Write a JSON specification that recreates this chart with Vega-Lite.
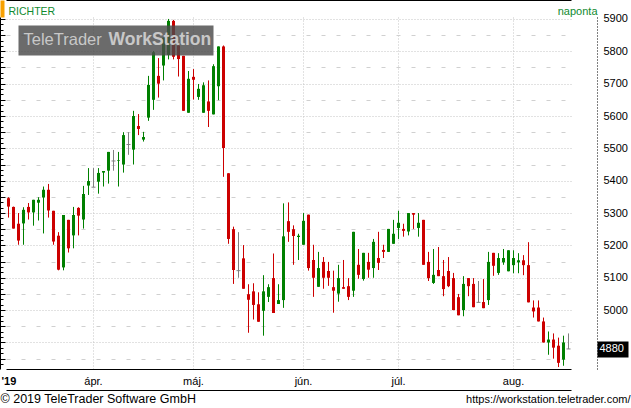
{
  "$schema": "https://vega.github.io/schema/vega-lite/v6.json",
  "width": 597,
  "height": 352,
  "autosize": {"type": "none"},
  "padding": {"left": 0, "top": 17, "right": 34, "bottom": 39},
  "background": "white",
  "config": {
    "view": {"stroke": null},
    "axis": {"labelFont": "Liberation Sans", "titleFont": "Liberation Sans"}
  },
  "data": {
    "values": [
      {"d": "2019-03-06", "o": 5346, "h": 5349, "l": 5286, "c": 5320},
      {"d": "2019-03-07", "o": 5319, "h": 5320, "l": 5252, "c": 5252},
      {"d": "2019-03-08", "o": 5267, "h": 5300, "l": 5202, "c": 5215},
      {"d": "2019-03-11", "o": 5268, "h": 5318, "l": 5202, "c": 5310},
      {"d": "2019-03-12", "o": 5319, "h": 5331, "l": 5280, "c": 5302},
      {"d": "2019-03-13", "o": 5302, "h": 5341, "l": 5261, "c": 5341},
      {"d": "2019-03-14", "o": 5332, "h": 5349, "l": 5277, "c": 5341},
      {"d": "2019-03-18", "o": 5348, "h": 5382, "l": 5237, "c": 5372},
      {"d": "2019-03-19", "o": 5372, "h": 5390, "l": 5286, "c": 5308},
      {"d": "2019-03-20", "o": 5307, "h": 5307, "l": 5202, "c": 5212},
      {"d": "2019-03-21", "o": 5230, "h": 5241, "l": 5123, "c": 5125},
      {"d": "2019-03-22", "o": 5132, "h": 5294, "l": 5123, "c": 5294},
      {"d": "2019-03-25", "o": 5279, "h": 5279, "l": 5178, "c": 5191},
      {"d": "2019-03-26", "o": 5231, "h": 5319, "l": 5191, "c": 5294},
      {"d": "2019-03-27", "o": 5316, "h": 5318, "l": 5231, "c": 5292},
      {"d": "2019-03-28", "o": 5280, "h": 5384, "l": 5252, "c": 5359},
      {"d": "2019-03-29", "o": 5385, "h": 5439, "l": 5356, "c": 5399},
      {"d": "2019-04-01", "o": 5380, "h": 5439, "l": 5380, "c": 5380},
      {"d": "2019-04-02", "o": 5397, "h": 5439, "l": 5360, "c": 5424},
      {"d": "2019-04-03", "o": 5425, "h": 5430, "l": 5382, "c": 5430},
      {"d": "2019-04-04", "o": 5431, "h": 5489, "l": 5391, "c": 5489},
      {"d": "2019-04-05", "o": 5461, "h": 5495, "l": 5431, "c": 5461},
      {"d": "2019-04-08", "o": 5462, "h": 5489, "l": 5382, "c": 5464},
      {"d": "2019-04-09", "o": 5450, "h": 5550, "l": 5425, "c": 5541},
      {"d": "2019-04-10", "o": 5512, "h": 5550, "l": 5480, "c": 5512},
      {"d": "2019-04-11", "o": 5496, "h": 5616, "l": 5450, "c": 5600},
      {"d": "2019-04-12", "o": 5569, "h": 5606, "l": 5541, "c": 5560},
      {"d": "2019-04-15", "o": 5527, "h": 5551, "l": 5521, "c": 5535},
      {"d": "2019-04-16", "o": 5595, "h": 5724, "l": 5585, "c": 5696},
      {"d": "2019-04-17", "o": 5650, "h": 5801, "l": 5619, "c": 5797},
      {"d": "2019-04-18", "o": 5724, "h": 5779, "l": 5657, "c": 5700},
      {"d": "2019-04-23", "o": 5756, "h": 5842, "l": 5710, "c": 5842},
      {"d": "2019-04-24", "o": 5789, "h": 5900, "l": 5775, "c": 5894},
      {"d": "2019-04-25", "o": 5894, "h": 5897, "l": 5775, "c": 5783},
      {"d": "2019-04-26", "o": 5818, "h": 5818, "l": 5722, "c": 5776},
      {"d": "2019-04-29", "o": 5786, "h": 5786, "l": 5616, "c": 5616},
      {"d": "2019-04-30", "o": 5610, "h": 5739, "l": 5610, "c": 5715},
      {"d": "2019-05-02", "o": 5721, "h": 5745, "l": 5651, "c": 5712},
      {"d": "2019-05-03", "o": 5659, "h": 5699, "l": 5650, "c": 5684},
      {"d": "2019-05-06", "o": 5610, "h": 5704, "l": 5610, "c": 5695},
      {"d": "2019-05-07", "o": 5645, "h": 5710, "l": 5566, "c": 5616},
      {"d": "2019-05-08", "o": 5605, "h": 5760, "l": 5605, "c": 5754},
      {"d": "2019-05-09", "o": 5692, "h": 5815, "l": 5649, "c": 5815},
      {"d": "2019-05-10", "o": 5815, "h": 5818, "l": 5412, "c": 5501},
      {"d": "2019-05-13", "o": 5423, "h": 5423, "l": 5205, "c": 5220},
      {"d": "2019-05-14", "o": 5250, "h": 5258, "l": 5081, "c": 5124},
      {"d": "2019-05-15", "o": 5122, "h": 5241, "l": 5100, "c": 5122},
      {"d": "2019-05-16", "o": 5160, "h": 5201, "l": 5066, "c": 5066},
      {"d": "2019-05-17", "o": 5049, "h": 5080, "l": 4930, "c": 5032},
      {"d": "2019-05-20", "o": 5058, "h": 5083, "l": 4971, "c": 5016},
      {"d": "2019-05-21", "o": 5018, "h": 5055, "l": 4964, "c": 4964},
      {"d": "2019-05-22", "o": 4998, "h": 5108, "l": 4921, "c": 5058},
      {"d": "2019-05-23", "o": 5041, "h": 5080, "l": 5025, "c": 5071},
      {"d": "2019-05-24", "o": 5099, "h": 5175, "l": 4991, "c": 4991},
      {"d": "2019-05-27", "o": 5019, "h": 5080, "l": 5019, "c": 5031},
      {"d": "2019-05-28", "o": 5031, "h": 5330, "l": 5007, "c": 5228},
      {"d": "2019-05-29", "o": 5275, "h": 5333, "l": 5211, "c": 5242},
      {"d": "2019-05-30", "o": 5250, "h": 5262, "l": 5140, "c": 5229},
      {"d": "2019-05-31", "o": 5226, "h": 5236, "l": 5155, "c": 5230},
      {"d": "2019-06-03", "o": 5202, "h": 5300, "l": 5202, "c": 5276},
      {"d": "2019-06-04", "o": 5295, "h": 5295, "l": 5122, "c": 5130},
      {"d": "2019-06-05", "o": 5155, "h": 5202, "l": 5041, "c": 5100},
      {"d": "2019-06-06", "o": 5072, "h": 5180, "l": 5072, "c": 5130},
      {"d": "2019-06-07", "o": 5149, "h": 5164, "l": 5066, "c": 5100},
      {"d": "2019-06-11", "o": 5121, "h": 5149, "l": 5075, "c": 5100},
      {"d": "2019-06-12", "o": 5071, "h": 5122, "l": 4992, "c": 5060},
      {"d": "2019-06-13", "o": 5051, "h": 5140, "l": 5026, "c": 5099},
      {"d": "2019-06-14", "o": 5071, "h": 5155, "l": 5066, "c": 5066},
      {"d": "2019-06-17", "o": 5074, "h": 5099, "l": 5031, "c": 5041},
      {"d": "2019-06-18", "o": 5060, "h": 5242, "l": 5041, "c": 5242},
      {"d": "2019-06-19", "o": 5140, "h": 5189, "l": 5097, "c": 5109},
      {"d": "2019-06-20", "o": 5096, "h": 5177, "l": 5091, "c": 5177},
      {"d": "2019-06-21", "o": 5149, "h": 5177, "l": 5100, "c": 5125},
      {"d": "2019-06-24", "o": 5130, "h": 5220, "l": 5100, "c": 5211},
      {"d": "2019-06-25", "o": 5161, "h": 5242, "l": 5124, "c": 5146},
      {"d": "2019-06-26", "o": 5186, "h": 5202, "l": 5161, "c": 5180},
      {"d": "2019-06-27", "o": 5180, "h": 5251, "l": 5180, "c": 5251},
      {"d": "2019-06-28", "o": 5205, "h": 5279, "l": 5205, "c": 5236},
      {"d": "2019-07-01", "o": 5254, "h": 5307, "l": 5220, "c": 5270},
      {"d": "2019-07-02", "o": 5251, "h": 5267, "l": 5227, "c": 5245},
      {"d": "2019-07-03", "o": 5243, "h": 5300, "l": 5231, "c": 5300},
      {"d": "2019-07-04", "o": 5300, "h": 5300, "l": 5251, "c": 5295},
      {"d": "2019-07-05", "o": 5254, "h": 5300, "l": 5227, "c": 5270},
      {"d": "2019-07-08", "o": 5279, "h": 5279, "l": 5140, "c": 5140},
      {"d": "2019-07-09", "o": 5149, "h": 5180, "l": 5090, "c": 5099},
      {"d": "2019-07-10", "o": 5084, "h": 5189, "l": 5081, "c": 5109},
      {"d": "2019-07-11", "o": 5124, "h": 5195, "l": 5105, "c": 5105},
      {"d": "2019-07-12", "o": 5105, "h": 5155, "l": 5043, "c": 5065},
      {"d": "2019-07-15", "o": 5121, "h": 5164, "l": 5071, "c": 5074},
      {"d": "2019-07-16", "o": 5099, "h": 5115, "l": 5000, "c": 5000},
      {"d": "2019-07-17", "o": 5040, "h": 5050, "l": 4984, "c": 4984},
      {"d": "2019-07-18", "o": 5000, "h": 5105, "l": 4981, "c": 5081},
      {"d": "2019-07-19", "o": 5099, "h": 5099, "l": 5043, "c": 5074},
      {"d": "2019-07-22", "o": 5081, "h": 5099, "l": 5009, "c": 5009},
      {"d": "2019-07-23", "o": 5024, "h": 5090, "l": 5024, "c": 5024},
      {"d": "2019-07-24", "o": 5025, "h": 5096, "l": 5006, "c": 5006},
      {"d": "2019-07-25", "o": 5031, "h": 5180, "l": 5016, "c": 5149},
      {"d": "2019-07-26", "o": 5177, "h": 5177, "l": 5106, "c": 5137},
      {"d": "2019-07-29", "o": 5115, "h": 5176, "l": 5109, "c": 5161},
      {"d": "2019-07-30", "o": 5148, "h": 5189, "l": 5140, "c": 5161},
      {"d": "2019-07-31", "o": 5120, "h": 5185, "l": 5120, "c": 5185},
      {"d": "2019-08-01", "o": 5139, "h": 5185, "l": 5114, "c": 5161},
      {"d": "2019-08-02", "o": 5148, "h": 5176, "l": 5114, "c": 5154},
      {"d": "2019-08-05", "o": 5154, "h": 5170, "l": 5108, "c": 5139},
      {"d": "2019-08-06", "o": 5139, "h": 5210, "l": 5024, "c": 5024},
      {"d": "2019-08-07", "o": 5008, "h": 5030, "l": 4977, "c": 4996},
      {"d": "2019-08-08", "o": 5008, "h": 5030, "l": 4965, "c": 4965},
      {"d": "2019-08-09", "o": 4965, "h": 4977, "l": 4900, "c": 4900},
      {"d": "2019-08-12", "o": 4900, "h": 4934, "l": 4862, "c": 4909},
      {"d": "2019-08-13", "o": 4909, "h": 4928, "l": 4850, "c": 4884},
      {"d": "2019-08-14", "o": 4890, "h": 4915, "l": 4824, "c": 4837},
      {"d": "2019-08-15", "o": 4847, "h": 4921, "l": 4828, "c": 4900},
      {"d": "2019-08-16", "o": 4880, "h": 4928, "l": 4880, "c": 4880}
    ]
  },
  "resolve": {"axis": {"x": "independent", "y": "independent"}},
  "layer": [
    {
      "mark": {"type": "rule", "strokeWidth": 1},
      "encoding": {
        "x": {
          "field": "d", "type": "ordinal",
          "scale": {"type": "band", "range": [6, 571], "paddingInner": 0, "paddingOuter": 0},
          "axis": {
            "orient": "bottom",
            "values": ["2019-03-06", "2019-04-01", "2019-05-02", "2019-06-03", "2019-07-01", "2019-08-01"],
            "labelExpr": "datum.value == '2019-03-06' ? \"'19\" : substring(datum.value, 5, 7) == '04' ? 'ápr.' : substring(datum.value, 5, 7) == '05' ? 'máj.' : substring(datum.value, 5, 7) == '06' ? 'jún.' : substring(datum.value, 5, 7) == '07' ? 'júl.' : 'aug.'",
            "labelAngle": 0,
            "labelFontSize": 11,
            "labelColor": "#000000",
            "labelPadding": 6,
            "labelAlign": {"condition": {"test": "datum.value == '2019-03-06'", "value": "left"}, "value": "center"},
            "labelOffset": {"condition": {"test": "datum.value == '2019-03-06'", "value": -7}, "value": 0},
            "labelFontWeight": {"condition": {"test": "datum.value == '2019-03-06'", "value": "bold"}, "value": "normal"},
            "bandPosition": 0.5,
            "ticks": false,
            "domain": true,
            "domainColor": "#000000",
            "grid": true,
            "gridColor": "#c4c4c4",
            "gridDash": [1, 2],
            "gridOpacity": {"condition": {"test": "datum.value == '2019-03-06'", "value": 0}, "value": 1},
            "title": "© 2019 TeleTrader Software GmbH",
            "titleX": 0,
            "titleY": 23,
            "titleAlign": "left",
            "titleAnchor": "start",
            "titleBaseline": "top",
            "titleFontSize": 12.5,
            "titleFontWeight": "normal",
            "titleColor": "#000000"
          }
        },
        "y": {
          "field": "l", "type": "quantitative",
          "scale": {"domain": [4818, 5906], "nice": false, "zero": false},
          "axis": {
            "orient": "left",
            "values": [4833.33, 4850, 4866.67, 4883.33, 4900, 4916.67, 4933.33, 4950, 4966.67, 4983.33, 5000, 5016.67, 5033.33, 5050, 5066.67, 5083.33, 5100, 5116.67, 5133.33, 5150, 5166.67, 5183.33, 5200, 5216.67, 5233.33, 5250, 5266.67, 5283.33, 5300, 5316.67, 5333.33, 5350, 5366.67, 5383.33, 5400, 5416.67, 5433.33, 5450, 5466.67, 5483.33, 5500, 5516.67, 5533.33, 5550, 5566.67, 5583.33, 5600, 5616.67, 5633.33, 5650, 5666.67, 5683.33, 5700, 5716.67, 5733.33, 5750, 5766.67, 5783.33, 5800, 5816.67, 5833.33, 5850, 5866.67, 5883.33, 5900],
            "labels": false,
            "domain": true,
            "domainColor": "#000000",
            "ticks": true,
            "tickColor": "#000000",
            "tickSize": {"condition": {"test": "datum.value % 50 == 0", "value": -5}, "value": -3},
            "grid": true,
            "gridColor": {"condition": {"test": "datum.value % 100 == 0", "value": "#c4c4c4"}, "value": "#d0d0d0"},
            "gridDash": {"condition": {"test": "datum.value % 100 == 0", "value": [1, 2]}, "value": [4, 11]},
            "gridOpacity": {"condition": {"test": "datum.value % 50 == 0", "value": 1}, "value": 0},
            "title": null
          }
        },
        "y2": {"field": "h"},
        "color": {
          "condition": [
            {"test": "datum.c > datum.o", "value": "#008000"},
            {"test": "datum.c < datum.o", "value": "#cc0000"}
          ],
          "value": "#808080"
        }
      }
    },
    {
      "mark": {"type": "bar", "width": 3},
      "encoding": {
        "x": {
          "field": "d", "type": "ordinal",
          "axis": {
            "orient": "top",
            "offset": 17,
            "values": ["2019-03-06"],
            "labels": false,
            "ticks": true,
            "bandPosition": 0.5,
            "tickOffset": -6.5,
            "tickSize": -17,
            "tickWidth": 4,
            "tickColor": "#f7a000",
            "grid": false,
            "domain": true,
            "domainColor": "#000000",
            "title": "RICHTER",
            "titleX": 8,
            "titleY": 14,
            "titleAlign": "left",
            "titleAnchor": "start",
            "titleBaseline": "alphabetic",
            "titleFontSize": 10.5,
            "titleFontWeight": "normal",
            "titleColor": "#108a30"
          }
        },
        "y": {
          "field": "o", "type": "quantitative",
          "axis": {
            "orient": "right",
            "values": [4880, 4900, 5000, 5100, 5200, 5300, 5400, 5500, 5600, 5700, 5800, 5900],
            "format": "d",
            "grid": false,
            "domain": true,
            "domainColor": "#000000",
            "domainDash": [1, 2],
            "ticks": true,
            "tickColor": "#000000",
            "tickSize": {"condition": {"test": "datum.value == 4880", "value": 31}, "value": 0},
            "tickWidth": {"condition": {"test": "datum.value == 4880", "value": 16}, "value": 1},
            "labelPadding": {"condition": {"test": "datum.value == 4880", "value": -29}, "value": 6},
            "labelColor": {"condition": {"test": "datum.value == 4880", "value": "#ffffff"}, "value": "#000000"},
            "labelOpacity": {"condition": {"test": "datum.value == 4900", "value": 0}, "value": 1},
            "labelFontSize": 11,
            "labelAlign": "left",
            "labelBaseline": "middle",
            "labelOverlap": false,
            "labelFlush": false,
            "title": "naponta",
            "titleX": 0,
            "titleY": -3,
            "titleAngle": 0,
            "titleAlign": "right",
            "titleBaseline": "alphabetic",
            "titleFontSize": 11,
            "titleFontWeight": "normal",
            "titleColor": "#108a30"
          }
        },
        "y2": {"field": "c"},
        "color": {
          "condition": [
            {"test": "datum.c > datum.o", "value": "#008000"},
            {"test": "datum.c < datum.o", "value": "#cc0000"}
          ],
          "value": "#808080"
        }
      }
    },
    {
      "transform": [{"filter": "datum.o == datum.c"}],
      "mark": {"type": "tick", "orient": "horizontal", "thickness": 1, "opacity": 1, "color": "#808080"},
      "encoding": {
        "x": {
          "field": "d", "type": "ordinal",
          "axis": {
            "orient": "bottom",
            "offset": 21,
            "labels": false,
            "ticks": false,
            "grid": false,
            "domain": true,
            "domainColor": "#000000",
            "title": "https://workstation.teletrader.com/",
            "titleX": 630,
            "titleY": 9,
            "titleAlign": "right",
            "titleAnchor": "end",
            "titleBaseline": "middle",
            "titleFontSize": 11,
            "titleFontWeight": "normal",
            "titleColor": "#000000"
          }
        },
        "y": {"field": "c", "type": "quantitative", "axis": null},
        "size": {"value": 4}
      }
    },
    {
      "data": {"values": [{"label": "TeleTrader WorkStation"}]},
      "mark": {"type": "rect", "color": "#4a4a4a", "opacity": 0.82},
      "encoding": {
        "x": {"datum": "2019-03-08", "type": "ordinal", "axis": null},
        "x2": {"datum": "2019-05-08"},
        "y": {"datum": 5880, "type": "quantitative", "axis": null},
        "y2": {"datum": 5787}
      }
    },
    {
      "data": {"values": [{"t": "TeleTrader"}]},
      "mark": {"type": "text", "align": "left", "baseline": "middle", "font": "Liberation Sans", "fontSize": 16.5, "color": "#c8c8c8"},
      "encoding": {
        "x": {"datum": "2019-03-11", "type": "ordinal", "axis": null},
        "y": {"datum": 5834, "type": "quantitative", "axis": null},
        "text": {"field": "t"}
      }
    },
    {
      "data": {"values": [{"t": "WorkStation"}]},
      "mark": {"type": "text", "align": "left", "baseline": "middle", "font": "Liberation Sans", "fontSize": 17.5, "fontWeight": "bold", "color": "#c8c8c8"},
      "encoding": {
        "x": {"datum": "2019-04-04", "type": "ordinal", "axis": null},
        "y": {"datum": 5834, "type": "quantitative", "axis": null},
        "text": {"field": "t"}
      }
    }
  ]
}
